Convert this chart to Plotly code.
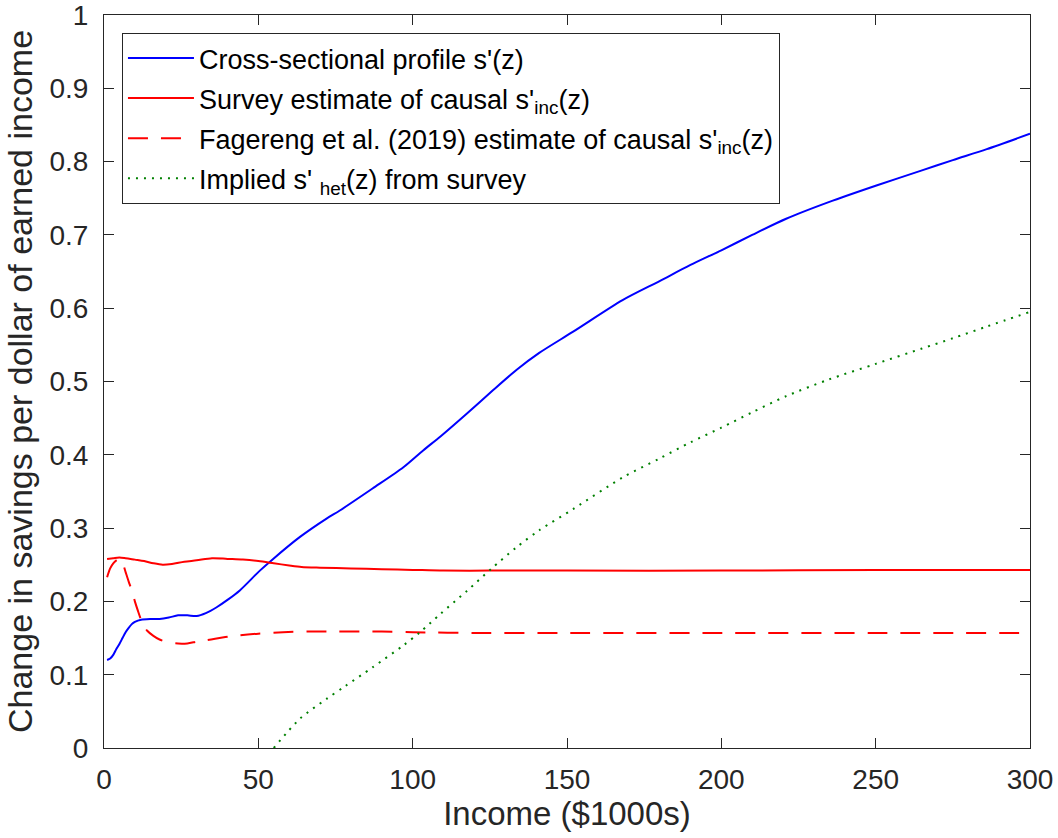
import plotly.graph_objects as go

# Cross-sectional profile s'(z)
x_cross = [1, 2, 3, 4, 5, 6, 7, 8, 9, 10, 12, 15, 18, 21, 24, 27, 30, 33, 36.5, 40, 44, 50.5, 54.8,
           63.5, 72.1, 76.4, 87, 97, 103.4, 109, 117.5, 126, 133.7, 141, 152, 168, 180,
           190, 200, 210, 221, 235, 250, 265, 275, 286, 300]
y_cross = [0.120, 0.122, 0.127, 0.135, 0.142, 0.150, 0.158, 0.164, 0.169, 0.172, 0.175, 0.176,
           0.176, 0.178, 0.181, 0.181, 0.180, 0.184, 0.192, 0.202, 0.215, 0.242, 0.258,
           0.288, 0.313, 0.324, 0.354, 0.383, 0.406, 0.425, 0.456, 0.488, 0.516, 0.539, 0.568,
           0.611, 0.637, 0.659, 0.679, 0.700, 0.722, 0.745, 0.767, 0.788, 0.802, 0.817, 0.838]

# Survey estimate of causal s'_inc(z)
x_survey = [1, 3, 5, 7, 10, 13, 16, 19, 22, 26, 30, 35, 40, 45, 50, 55, 60, 64, 70, 80, 90, 100,
            110, 125, 150, 200, 250, 300]
y_survey = [0.258, 0.259, 0.260, 0.259, 0.257, 0.255, 0.252, 0.250, 0.251, 0.254, 0.256, 0.259,
            0.258, 0.257, 0.255, 0.252, 0.249, 0.247, 0.246, 0.245, 0.244, 0.243, 0.242, 0.242,
            0.242, 0.242, 0.243, 0.243]

# Fagereng et al. (2019) estimate of causal s'_inc(z)
x_fag = [1, 2, 3, 4, 5, 6, 7, 8, 9, 10, 11, 12, 13, 14, 16, 18, 21, 24, 27, 30, 33, 36, 42, 50,
         58, 66, 76, 90, 100, 120, 150, 200, 250, 300]
y_fag = [0.233, 0.245, 0.252, 0.256, 0.258, 0.253, 0.240, 0.227, 0.215, 0.200, 0.187, 0.175,
         0.166, 0.160, 0.153, 0.148, 0.144, 0.1425, 0.1427, 0.145, 0.147, 0.149, 0.153, 0.156,
         0.158, 0.159, 0.159, 0.159, 0.158, 0.157, 0.157, 0.157, 0.157, 0.157]

# Implied s'_het(z) from survey
x_het = [55, 63.5, 72.1, 78, 87, 97, 102.4, 109, 117.5, 125.6, 133.7, 141, 152, 168, 180, 190, 200,
         210, 221, 235, 250, 265, 275, 286, 300]
y_het = [0.0, 0.040, 0.067, 0.084, 0.110, 0.140, 0.158, 0.183, 0.214, 0.245, 0.274, 0.297, 0.326,
         0.369, 0.395, 0.417, 0.437, 0.458, 0.480, 0.503, 0.524, 0.545, 0.559, 0.575, 0.595]

x_ticks = [0, 50, 100, 150, 200, 250, 300]
y_ticks = [0, 0.1, 0.2, 0.3, 0.4, 0.5, 0.6, 0.7, 0.8, 0.9, 1]

FONT = "Liberation Sans, Arial, Helvetica, sans-serif"
AX = "#262626"

fig = go.Figure()
fig.add_trace(go.Scatter(x=x_cross, y=y_cross, mode="lines", legendgroup="a",
                         line=dict(color="#0000ff", width=2, shape="spline", smoothing=0.8),
                         name="Cross-sectional profile s'(z)"))
fig.add_trace(go.Scatter(x=x_survey, y=y_survey, mode="lines", legendgroup="b",
                         line=dict(color="#ff0000", width=2, shape="spline", smoothing=0.8),
                         name="Survey estimate of causal s'<sub>inc</sub>(z)"))
fig.add_trace(go.Scatter(x=x_fag, y=y_fag, mode="lines", legendgroup="c",
                         line=dict(color="#ff0000", width=2, dash="20px,13px", shape="spline", smoothing=0.8),
                         name="Fagereng et al. (2019) estimate of causal s'<sub>inc</sub>(z)"))
fig.add_trace(go.Scatter(x=x_het, y=y_het, mode="lines", legendgroup="d",
                         line=dict(color="#008000", width=2, dash="2px,6px", shape="spline", smoothing=0.8),
                         name="Implied s' <sub>het</sub>(z) from survey"))

axis_common = dict(showline=True, linecolor=AX, linewidth=1, mirror="ticks", ticks="inside",
                   ticklen=10, tickwidth=1, tickcolor=AX, showgrid=False, zeroline=False,
                   automargin=False, ticklabeloverflow="allow",
                   tickfont=dict(family=FONT, size=28, color=AX))

fig.update_layout(
    width=1058, height=838,
    margin=dict(l=104, r=28, t=15, b=90),
    paper_bgcolor="white", plot_bgcolor="white",
    font=dict(family=FONT, color=AX),
    xaxis=dict(range=[0, 300], tickvals=x_ticks, ticklabelstandoff=6, **axis_common,
               title=dict(text="Income ($1000s)", font=dict(family=FONT, size=33, color=AX), standoff=8)),
    yaxis=dict(range=[0, 1], tickvals=y_ticks, ticklabelstandoff=9, **axis_common,
               title=dict(text="Change in savings per dollar of earned income",
                          font=dict(family=FONT, size=34, color=AX), standoff=6)),
    legend=dict(x=0.0194, y=0.9755, xanchor="left", yanchor="top", bgcolor="white",
                bordercolor=AX, borderwidth=1, font=dict(family=FONT, size=27, color="black"),
                itemwidth=66, tracegroupgap=2),
    showlegend=True,
)

fig.write_html("out.html", config={"displayModeBar": False},
               post_script="document.body.style.margin='0';")
